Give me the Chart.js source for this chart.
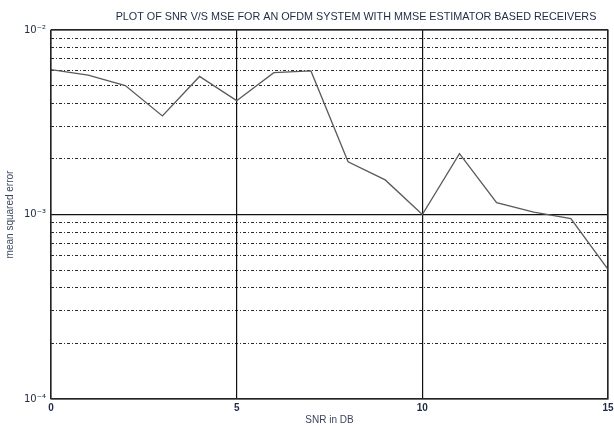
<!DOCTYPE html>
<html>
<head>
<meta charset="utf-8">
<script src="https://cdn.jsdelivr.net/npm/chart.js@4.4.1/dist/chart.umd.min.js"></script>
<style>
  html, body { margin: 0; padding: 0; background: #fff; }
  #wrap { width: 614px; height: 426px; position: relative; }
</style>
</head>
<body>
<div id="wrap"><canvas id="c" width="614" height="426"></canvas></div>
<script>
// SNR values (dB) and the measured mean squared error at each one
const snrDb = [0, 1, 2, 3, 4, 5, 6, 7, 8, 9, 10, 11, 12, 13, 14, 15];
const mse = [6.1e-3, 5.7e-3, 5.0e-3, 3.42e-3, 5.6e-3, 4.14e-3, 5.87e-3, 6.0e-3,
             1.93e-3, 1.54e-3, 1.0e-3, 2.14e-3, 1.16e-3, 1.03e-3, 0.95e-3, 5.05e-4];
const xTicks = [0, 5, 10, 15];
const yDecades = [1e-4, 1e-3, 1e-2];
const yDecadeLabels = ['10\u207B\u2074', '10\u207B\u00B3', '10\u207B\u00B2'];

const titleText = 'PLOT OF SNR V/S MSE FOR AN OFDM SYSTEM WITH MMSE ESTIMATOR BASED RECEIVERS';
const textColor = '#1e2a44';

function isDecade(v) {
  const l = Math.log10(v);
  return Math.abs(l - Math.round(l)) < 1e-6;
}

// log-scale grid: each decade plus its 2..9 multiples
const yGridValues = [];
for (let d = -4; d < -2; d++) {
  for (let m = 1; m <= 9; m++) yGridValues.push(m * Math.pow(10, d));
}
yGridValues.push(1e-2);

const framePlugin = {
  id: 'frame',
  afterDraw(chart) {
    const { ctx, chartArea: a } = chart;
    ctx.save();
    ctx.strokeStyle = '#333';
    ctx.lineWidth = 1.2;
    ctx.strokeRect(a.left, a.top, a.right - a.left, a.bottom - a.top);
    ctx.fillStyle = textColor;
    ctx.font = '10.8px "Liberation Sans", Arial, sans-serif';
    ctx.textAlign = 'center';
    ctx.textBaseline = 'middle';
    ctx.fillText(titleText, 356, 17);
    ctx.restore();
  }
};

new Chart(document.getElementById('c'), {
  type: 'line',
  data: {
    datasets: [{
      data: snrDb.map((x, i) => ({ x, y: mse[i] })),
      borderColor: '#5a5a5a',
      borderWidth: 1.3,
      pointRadius: 0,
      tension: 0,
      fill: false
    }]
  },
  options: {
    responsive: false,
    animation: false,
    devicePixelRatio: 1,
    layout: { padding: { left: 4, right: 6, top: 30, bottom: 0 } },
    plugins: { legend: { display: false }, tooltip: { enabled: false }, title: { display: false } },
    scales: {
      x: {
        type: 'linear',
        min: 0, max: 15,
        afterBuildTicks(scale) { scale.ticks = xTicks.map(v => ({ value: v })); },
        afterFit(scale) { scale.height = 27; scale.paddingRight = 0; scale.paddingLeft = 0; },
        ticks: {
          color: textColor,
          font: { family: '"Liberation Sans", Arial, sans-serif', size: 10, weight: 'bold' },
          padding: 3,
          maxRotation: 0
        },
        grid: { color: '#111', lineWidth: 1.2, drawTicks: false },
        border: { display: false },
        title: {
          display: true, text: 'SNR in DB', color: '#3a4660',
          font: { family: '"Liberation Sans", Arial, sans-serif', size: 10 },
          padding: { top: 0, bottom: 0 }
        }
      },
      y: {
        type: 'logarithmic',
        min: 1e-4, max: 1e-2,
        afterBuildTicks(scale) { scale.ticks = yGridValues.map(v => ({ value: v })); },
        afterFit(scale) { scale.width = 47; },
        ticks: {
          autoSkip: false,
          color: textColor,
          font: { family: '"DejaVu Sans", "Liberation Sans", sans-serif', size: 10 },
          padding: 5,
          callback(v) {
            const i = yDecades.findIndex(d => Math.abs(d - v) / d < 1e-6);
            return i >= 0 ? yDecadeLabels[i] : '';
          }
        },
        grid: {
          color: '#111',
          lineWidth: ctx => (ctx.tick && isDecade(ctx.tick.value)) ? 1.2 : 0.9,
          drawTicks: false
        },
        border: {
          display: false,
          dash: ctx => (ctx.tick && isDecade(ctx.tick.value)) ? [] : [3, 2, 1, 2]
        },
        title: {
          display: true, text: 'mean squared error', color: '#3a4660',
          font: { family: '"Liberation Sans", Arial, sans-serif', size: 10 },
          padding: { top: 0, bottom: 9 }
        }
      }
    }
  },
  plugins: [framePlugin]
});
</script>
</body>
</html>
